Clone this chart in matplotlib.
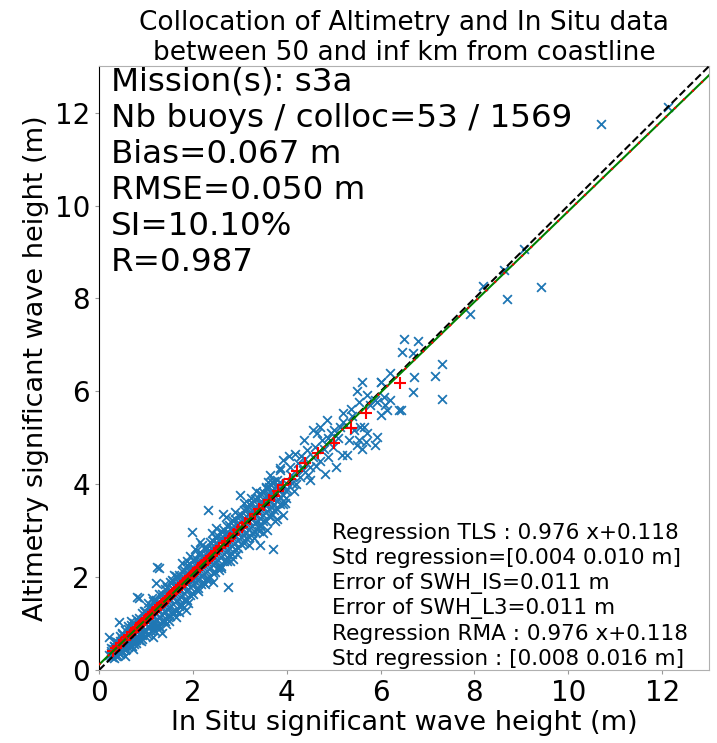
import numpy as np
import matplotlib
matplotlib.use("Agg")
import matplotlib.pyplot as plt

# dense core of the cloud: in situ SWH per column and the altimetry SWH values read in that column
core_insitu = [0.26, 0.32, 0.38, 0.44, 0.50, 0.56, 0.62, 0.68, 0.74, 0.80, 0.86, 0.92, 0.98,
               1.04, 1.10, 1.16, 1.22, 1.28, 1.34, 1.40, 1.46, 1.52, 1.58, 1.64, 1.70, 1.76,
               1.82, 1.88, 1.94, 2.00, 2.06, 2.12, 2.18, 2.24, 2.30, 2.36, 2.42, 2.48, 2.54,
               2.60, 2.66, 2.72, 2.78, 2.84, 2.90, 2.96, 3.02, 3.08, 3.14, 3.20, 3.26, 3.32,
               3.38, 3.44, 3.50, 3.56, 3.62, 3.68, 3.74, 3.80, 3.86, 3.92, 3.98]
core_alti = [[0.30, 0.38, 0.47], [0.27, 0.36, 0.44, 0.53], [0.32, 0.41, 0.50, 0.60],
             [0.35, 0.45, 0.54, 0.63, 0.74], [0.41, 0.49, 0.58, 0.67, 0.77],
             [0.43, 0.54, 0.63, 0.72, 0.86], [0.49, 0.58, 0.68, 0.78, 0.89],
             [0.51, 0.63, 0.73, 0.84, 0.98], [0.57, 0.68, 0.79, 0.90, 1.01],
             [0.58, 0.72, 0.84, 0.96, 1.10], [0.66, 0.77, 0.90, 1.02, 1.13],
             [0.67, 0.82, 0.96, 1.08, 1.24], [0.74, 0.87, 1.01, 1.14, 1.27],
             [0.76, 0.92, 1.06, 1.20, 1.36], [0.84, 0.97, 1.12, 1.26, 1.39],
             [0.86, 1.03, 1.18, 1.32, 1.49], [0.95, 1.09, 1.24, 1.38, 1.52],
             [0.96, 1.14, 1.30, 1.44, 1.63], [1.05, 1.19, 1.36, 1.50, 1.65],
             [1.06, 1.25, 1.42, 1.57, 1.75], [1.16, 1.31, 1.48, 1.63, 1.79],
             [1.17, 1.37, 1.54, 1.69, 1.89], [1.26, 1.42, 1.60, 1.75, 1.91],
             [1.28, 1.48, 1.66, 1.82, 2.02], [1.38, 1.54, 1.72, 1.88, 2.04],
             [1.40, 1.60, 1.78, 1.94, 2.14], [1.50, 1.66, 1.84, 2.00, 2.16],
             [1.52, 1.72, 1.90, 2.06, 2.26], [1.62, 1.78, 1.96, 2.12, 2.28],
             [1.63, 1.84, 2.02, 2.18, 2.38], [1.74, 1.90, 2.08, 2.24, 2.40],
             [1.76, 1.96, 2.14, 2.30, 2.50], [1.86, 2.02, 2.20, 2.36, 2.52],
             [1.87, 2.08, 2.26, 2.42, 2.62], [1.98, 2.14, 2.32, 2.48, 2.64],
             [2.00, 2.20, 2.38, 2.54, 2.75], [2.10, 2.26, 2.44, 2.60, 2.77],
             [2.12, 2.32, 2.50, 2.66, 2.87], [2.22, 2.38, 2.56, 2.72, 2.89],
             [2.24, 2.44, 2.62, 2.78, 2.99], [2.34, 2.50, 2.68, 2.84, 3.01],
             [2.36, 2.56, 2.74, 2.90, 3.11], [2.47, 2.62, 2.80, 2.96, 3.13],
             [2.50, 2.68, 2.86, 3.02, 3.23], [2.60, 2.74, 2.92, 3.08, 3.25],
             [2.62, 2.80, 2.98, 3.14, 3.34], [2.72, 2.86, 3.04, 3.20, 3.35],
             [2.74, 2.92, 3.10, 3.26, 3.45], [2.84, 2.98, 3.16, 3.32, 3.47],
             [2.86, 3.04, 3.22, 3.38, 3.57], [2.96, 3.10, 3.28, 3.44, 3.59],
             [2.98, 3.16, 3.34, 3.50, 3.69], [3.08, 3.22, 3.40, 3.56, 3.71],
             [3.10, 3.28, 3.46, 3.62, 3.81], [3.20, 3.34, 3.52, 3.68, 3.83],
             [3.22, 3.40, 3.58, 3.74, 3.93], [3.32, 3.46, 3.64, 3.80, 3.95],
             [3.34, 3.52, 3.70, 3.86, 4.05], [3.44, 3.58, 3.76, 3.92, 4.07],
             [3.46, 3.64, 3.82, 3.98], [3.57, 3.72, 3.90, 4.06], [3.58, 3.78, 3.96],
             [3.70, 3.85, 4.03]]

# scattered points (in situ SWH, altimetry SWH) around the core, grouped by range
pts_0_1 = [(0.22, 0.33), (0.25, 0.41), (0.27, 0.28), (0.30, 0.45), (0.31, 0.36), (0.33, 0.52),
           (0.36, 0.30), (0.40, 0.58), (0.43, 0.37), (0.48, 0.62), (0.50, 0.42), (0.53, 0.68),
           (0.58, 0.45), (0.60, 0.72), (0.65, 0.80), (0.71, 0.52), (0.73, 0.88), (0.78, 0.64),
           (0.80, 0.95), (0.86, 1.02), (0.91, 0.76), (0.93, 1.10), (0.98, 0.82), (1.00, 1.16),
           (0.43, 1.04), (0.21, 0.72), (0.55, 0.30), (0.62, 0.95), (0.72, 0.45), (0.82, 1.58),
           (0.85, 1.55), (0.50, 0.80), (0.68, 1.05), (0.90, 0.62), (0.35, 0.62), (0.95, 1.28)]

pts_1_2 = [(1.05, 0.95), (1.08, 1.25), (1.12, 1.32), (1.17, 0.98), (1.21, 1.40), (1.24, 1.08),
           (1.30, 1.45), (1.35, 1.50), (1.39, 1.55), (1.44, 1.60), (1.48, 1.65), (1.53, 1.70),
           (1.57, 1.75), (1.62, 1.80), (1.66, 1.86), (1.71, 1.90), (1.75, 1.95), (1.80, 2.00),
           (1.84, 2.05), (1.89, 2.10), (1.93, 2.15), (1.98, 2.20),
           (1.24, 2.22), (1.27, 2.20), (1.21, 1.87), (1.85, 1.29), (1.05, 1.45), (1.15, 0.72),
           (1.30, 0.90), (1.40, 1.85), (1.50, 1.05), (1.60, 2.05), (1.70, 1.25), (1.78, 2.30),
           (1.90, 1.45), (1.35, 0.80), (1.12, 1.55), (1.55, 1.95), (1.65, 1.15), (1.45, 1.78),
           (1.95, 2.45), (1.20, 0.85), (1.75, 1.40), (1.88, 2.35), (1.58, 1.20), (1.42, 1.00)]

pts_2_3 = [(2.01, 1.94), (2.07, 2.30), (2.12, 2.35), (2.21, 2.45), (2.30, 2.55), (2.39, 2.64),
           (2.49, 2.74), (2.59, 2.85), (2.70, 2.95), (2.82, 3.05), (2.94, 3.15),
           (2.42, 1.90), (2.74, 1.79), (1.98, 2.98), (2.33, 3.44), (2.65, 3.37), (2.10, 1.70),
           (2.20, 2.70), (2.30, 1.95), (2.50, 3.05), (2.60, 2.20), (2.70, 3.30), (2.80, 2.35),
           (2.90, 3.40), (2.15, 2.75), (2.55, 2.15), (2.85, 2.40), (2.40, 2.95), (2.95, 2.50),
           (2.05, 2.60), (2.25, 1.85)]

pts_3_4 = [(3.09, 3.28), (3.27, 3.45), (3.45, 3.60), (3.63, 3.75), (3.81, 3.90), (3.96, 3.60),
           (3.01, 3.77), (3.44, 2.69), (3.71, 2.61), (3.61, 4.05), (3.44, 3.12), (3.58, 3.01),
           (3.10, 3.60), (3.20, 2.70), (3.35, 3.85), (3.50, 2.95), (3.65, 4.20), (3.80, 3.25),
           (3.15, 3.50), (3.30, 2.85), (3.55, 3.95), (3.75, 3.20), (3.25, 3.70), (3.85, 4.35),
           (3.92, 3.35), (3.40, 3.00), (3.93, 4.52), (3.86, 4.31), (3.79, 4.09)]

pts_4_7 = [(4.08, 4.38), (4.29, 4.16), (4.50, 4.09), (4.50, 4.38), (4.57, 4.59), (4.43, 4.74),
           (4.36, 4.95), (4.57, 5.17), (4.65, 5.10), (4.72, 5.24), (4.86, 5.38), (5.00, 5.17),
           (4.89, 4.99), (4.79, 4.77), (4.89, 4.59), (5.04, 4.38), (5.18, 4.63), (4.82, 4.23),
           (4.18, 4.66), (5.14, 5.24), (5.21, 5.35), (5.21, 5.53), (5.39, 5.46), (5.36, 5.63),
           (5.53, 5.78), (5.50, 6.00), (5.71, 5.92), (5.78, 5.71), (5.93, 5.78), (6.10, 5.71),
           (6.07, 5.88), (6.00, 6.21), (6.39, 5.60), (6.14, 5.60), (6.00, 5.49), (5.43, 5.17),
           (5.57, 5.24), (5.71, 5.10), (5.93, 5.02), (5.89, 4.84), (5.68, 4.92), (5.53, 4.95),
           (5.32, 4.95), (5.29, 4.63), (5.50, 4.84), (5.61, 6.21), (5.89, 5.81), (6.21, 5.81),
           (5.64, 5.24), (5.61, 4.77), (4.10, 4.20), (4.20, 4.00), (4.25, 4.45), (4.35, 4.30),
           (4.40, 4.55), (4.60, 4.80), (4.70, 4.50), (4.75, 4.95), (4.95, 5.10), (5.10, 5.00),
           (4.15, 3.85), (4.05, 4.60), (4.45, 4.20), (4.00, 3.90), (4.12, 4.02), (4.30, 4.60),
           (4.62, 4.40), (4.98, 4.80)]

pts_high = [(12.12, 12.11), (10.70, 11.75), (9.06, 9.06), (8.64, 8.61), (8.19, 8.27), (8.70, 7.99),
            (9.41, 8.24), (7.90, 7.67), (6.50, 7.13), (6.79, 7.08), (6.70, 6.82), (7.30, 6.58),
            (7.17, 6.34), (6.71, 6.30), (6.69, 5.99), (7.30, 5.83), (6.44, 5.60), (6.46, 6.85),
            (6.01, 6.20), (6.21, 6.40)]

# binned medians (red crosses)
bin_insitu = [0.30, 0.36, 0.42, 0.48, 0.54, 0.60, 0.66, 0.72, 0.76, 0.80, 0.84, 0.88, 0.92, 0.96,
              1.00, 1.04, 1.08, 1.12, 1.16, 1.20, 1.24, 1.28, 1.32, 1.36, 1.40, 1.44, 1.48, 1.52,
              1.56, 1.60, 1.64, 1.68, 1.72, 1.76, 1.80, 1.84, 1.88, 1.92, 1.96, 2.00, 2.04, 2.08,
              2.12, 2.16, 2.20, 2.24, 2.28, 2.32, 2.36, 2.40, 2.45, 2.50, 2.56, 2.62, 2.68, 2.74,
              2.80, 2.88, 2.96, 3.04, 3.12, 3.22, 3.32, 3.42, 3.52, 3.62, 3.72, 3.82, 3.93, 4.06,
              4.22, 4.40, 4.66, 5.00, 5.36, 5.70, 6.42]
bin_alti = [0.41, 0.47, 0.53, 0.59, 0.65, 0.71, 0.76, 0.83, 0.86, 0.90, 0.94, 0.98, 1.02, 1.06,
            1.10, 1.13, 1.18, 1.21, 1.25, 1.29, 1.33, 1.37, 1.41, 1.45, 1.49, 1.53, 1.56, 1.60,
            1.64, 1.68, 1.72, 1.76, 1.80, 1.84, 1.88, 1.92, 1.95, 1.99, 2.03, 2.07, 2.11, 2.15,
            2.19, 2.23, 2.27, 2.31, 2.34, 2.38, 2.42, 2.46, 2.51, 2.56, 2.62, 2.68, 2.73, 2.79,
            2.85, 2.93, 3.01, 3.09, 3.16, 3.26, 3.36, 3.46, 3.56, 3.66, 3.75, 3.85, 3.98, 4.12,
            4.29, 4.45, 4.68, 4.90, 5.22, 5.54, 6.19]

slope_tls, icpt_tls = 0.976, 0.118
slope_rma, icpt_rma = 0.976, 0.118
lim = 13

stats_txt = ("Mission(s): s3a\nNb buoys / colloc=53 / 1569\nBias=0.067 m\n"
             "RMSE=0.050 m\nSI=10.10%\nR=0.987")
reg_txt = ("Regression TLS : 0.976 x+0.118\nStd regression=[0.004 0.010 m]\n"
           "Error of SWH_IS=0.011 m\nError of SWH_L3=0.011 m\n"
           "Regression RMA : 0.976 x+0.118\nStd regression : [0.008 0.016 m]")

core_x = [x for x, col in zip(core_insitu, core_alti) for _ in col]
core_y = [y for col in core_alti for y in col]
extra = np.array(pts_0_1 + pts_1_2 + pts_2_3 + pts_3_4 + pts_4_7 + pts_high)
all_x = np.concatenate([core_x, extra[:, 0]])
all_y = np.concatenate([core_y, extra[:, 1]])

fig = plt.figure(figsize=(7.17, 7.43), dpi=100)
ax = fig.add_axes([0.138, 0.098, 0.851, 0.813])

ax.scatter(all_x, all_y, marker='x', s=40, color='#1f77b4', linewidths=1.3, zorder=2)
ax.plot(bin_insitu, bin_alti, 'r+', markersize=9, mew=1.5, zorder=3)

xx = np.array([0, lim])
ax.plot(xx, xx, 'k--', lw=1.5, zorder=4)
ax.plot(xx, slope_tls * xx + icpt_tls, color='green', lw=1.5, zorder=4)
ax.plot(xx, slope_rma * xx + icpt_rma, color='red', ls=(0, (1, 5)), lw=1.5, zorder=5)

ax.set_xlim(0, lim)
ax.set_ylim(0, lim)
ax.set_xticks([0, 2, 4, 6, 8, 10, 12])
ax.set_yticks([0, 2, 4, 6, 8, 10, 12])
ax.tick_params(labelsize=20, length=3, color='#999999')
for side in ['top', 'right', 'bottom']:
    ax.spines[side].set_color('#b0b0b0')
ax.spines['left'].set_color('black')

ax.set_xlabel('In Situ significant wave height (m)', fontsize=19.5, labelpad=2)
ax.set_ylabel('Altimetry significant wave height (m)', fontsize=19.5, labelpad=4)
ax.set_title('Collocation of Altimetry and In Situ data\nbetween 50 and inf km from coastline',
             fontsize=19, pad=3, linespacing=1.2)

ax.text(0.02, 0.999, stats_txt, transform=ax.transAxes, fontsize=23.4, va='top', ha='left',
        linespacing=1.21)
ax.text(0.382, 0.002, reg_txt, transform=ax.transAxes, fontsize=15.6, va='bottom', ha='left',
        linespacing=1.3)

fig.savefig('out.png', dpi=100)
